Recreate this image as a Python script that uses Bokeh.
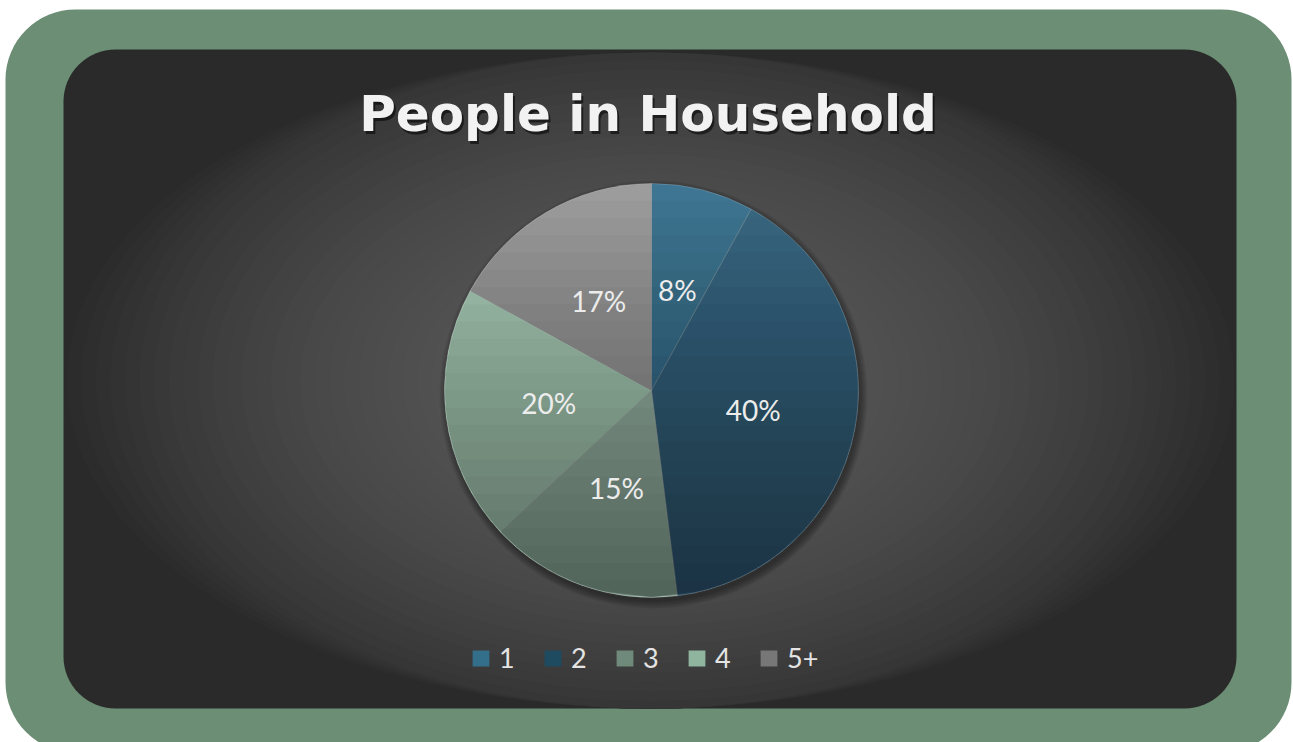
import math
import numpy as np
from bokeh.plotting import figure
from bokeh.models import ColumnDataSource, Range1d, BoxAnnotation, Legend, LegendItem
from bokeh.core.properties import value
from bokeh.embed import file_html
from bokeh.resources import INLINE

# ---- data ----
categories = ["1", "2", "3", "4", "5+"]
shares = [8, 40, 15, 20, 17]
slice_colors = ["#3e7592", "#3a6882", "#9ebcac", "#acd0bb", "#9c9c9c"]
legend_colors = ["#336e8a", "#1f4b61", "#6f8a7a", "#8fb59f", "#777777"]
title_text = "People in Household"

W, H = 1293, 742
p = figure(width=W, height=H, x_range=Range1d(0, W), y_range=Range1d(0, H),
           output_backend="svg", toolbar_location=None, min_border=0,
           x_axis_type=None, y_axis_type=None,
           background_fill_color="white", border_fill_color="white",
           outline_line_color=None)
p.grid.visible = False

# frame: green rounded border and dark rounded panel
p.add_layout(BoxAnnotation(left=5, right=1291, bottom=-10, top=733,
                           fill_color="#6b8e75", fill_alpha=1, line_color=None,
                           border_radius=70, level="underlay"))
p.add_layout(BoxAnnotation(left=63, right=1236, bottom=34, top=693,
                           fill_color="#2a2a2a", fill_alpha=1, line_color=None,
                           border_radius=52, level="underlay"))

# radial background glow
GX, GY = 650, 362
BW, BH = 1168, 656
NG = 40
for i in range(NG):
    t = 1 - i / NG
    c = int(round(0x57 - (0x57 - 0x2c) * t ** 2))
    col = "#%02x%02x%02x" % (c, c, c)
    p.ellipse(x=GX, y=GY, width=BW * t, height=min(BH, BH * 1.15 * t),
              fill_color=col, line_color=None)

# pie geometry
CX, CY, R = 651, 352, 207
total = float(sum(shares))
fr = [v / total for v in shares]
cum = np.concatenate([[0.0], np.cumsum(fr)])
start = [math.pi / 2 - 2 * math.pi * cum[i] for i in range(len(shares))]
end = [math.pi / 2 - 2 * math.pi * cum[i + 1] for i in range(len(shares))]
mid = [(a + b) / 2 for a, b in zip(start, end)]
src = ColumnDataSource(dict(
    cat=categories, share=shares, start=start, end=end,
    color=slice_colors, lcolor=legend_colors,
    lx=[CX + 0.5 * R * math.cos(m) for m in mid],
    ly=[CY + 0.5 * R * math.sin(m) for m in mid],
    lab=["%d%%" % v for v in shares],
))

# soft shadow
for i in range(8):
    p.circle(x=CX + 2, y=CY - 4, radius=R + i, fill_color="black",
             fill_alpha=0.05, line_color=None)

p.wedge(x=CX, y=CY, radius=R, start_angle="start", end_angle="end",
        direction="clock", fill_color="color", line_color="white",
        line_alpha=0.18, line_width=1, source=src)

# vertical shading over the pie (lighter top, darker bottom)
NB = 24
for k in range(1, NB):
    yk = CY + R - k * 2 * R / NB
    ys = np.linspace(CY - R + 0.5, yk, 60)
    half = np.sqrt(np.maximum((R - 0.5) ** 2 - (ys - CY) ** 2, 0))
    p.harea(y=ys, x1=CX - half, x2=CX + half, fill_color="black",
            fill_alpha=0.022)

# legend renderer (zero radius: only used for legend swatches)
leg_r = p.wedge(x=CX, y=CY, radius=0, start_angle="start", end_angle="end",
                direction="clock", fill_color="lcolor", line_color=None,
                source=src)

# data labels
p.text(x="lx", y="ly", text="lab", source=src, text_font=value("Lato"),
       text_font_size="28px", text_color="#ececec", text_align="center",
       text_baseline="middle")

# title with shadow
p.text(x=[649.5], y=[626], text=[title_text], text_font=value("DejaVu Sans"),
       text_font_style="bold", text_font_size="50px", text_color="black",
       text_alpha=0.55, text_align="center", text_baseline="alphabetic")
p.text(x=[647.5], y=[629], text=[title_text], text_font=value("DejaVu Sans"),
       text_font_style="bold", text_font_size="50px", text_color="#f2f2f2",
       text_align="center", text_baseline="alphabetic")

legend = Legend(items=[LegendItem(label=categories[i], renderers=[leg_r], index=i)
                       for i in range(len(categories))],
                orientation="horizontal", location=(470, 68),
                padding=0, margin=0, spacing=23, label_standoff=8,
                glyph_width=21, glyph_height=20,
                label_text_font="Lato", label_text_font_size="27px",
                label_text_color="#e4e4e4",
                background_fill_alpha=0, border_line_alpha=0)
p.add_layout(legend)

open("out.html", "w").write(file_html(p, INLINE))
